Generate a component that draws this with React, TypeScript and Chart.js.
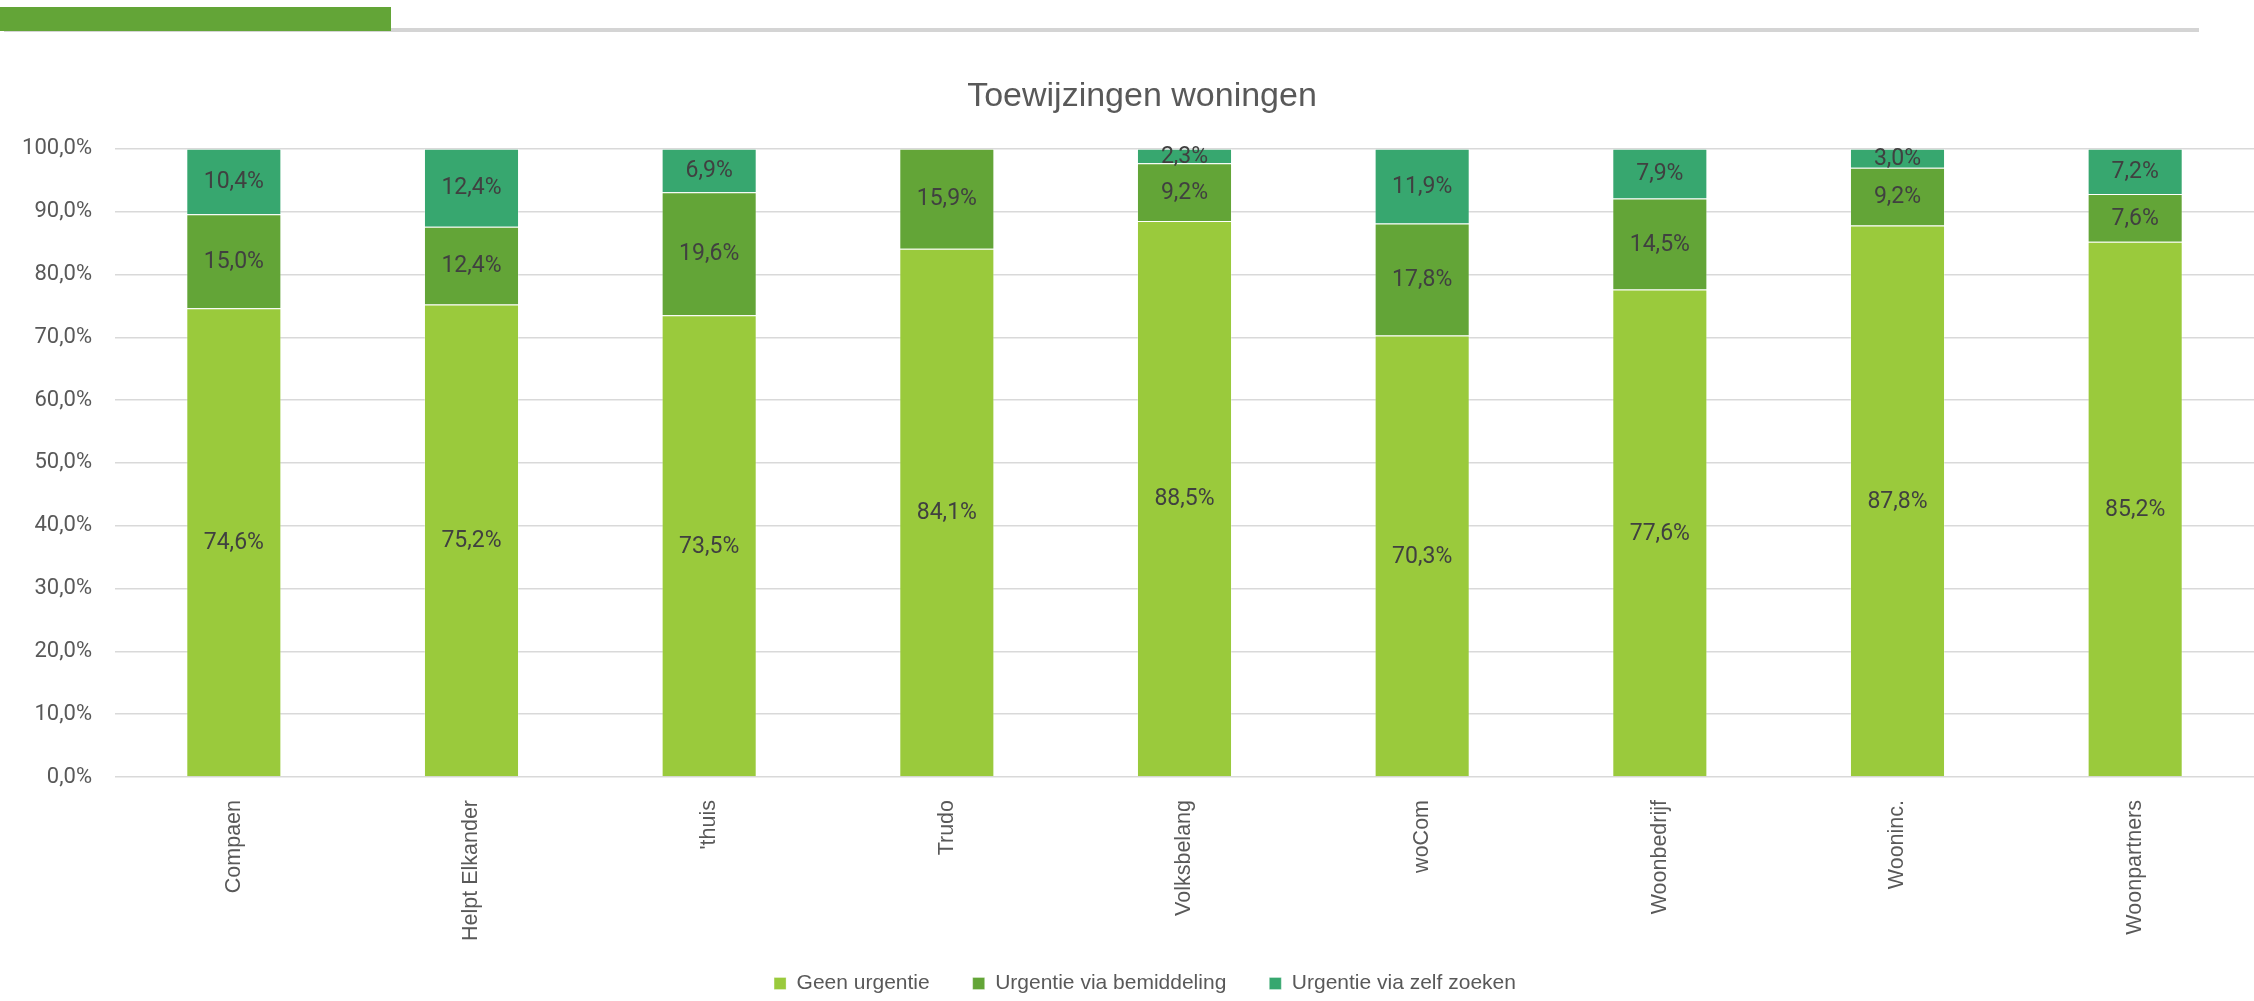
import React, { useEffect, useRef } from "react";
import { Chart, registerables } from "chart.js";

Chart.register(...registerables);

const categories = ["Compaen", "Helpt Elkander", "'thuis", "Trudo", "Volksbelang", "woCom", "Woonbedrijf", "Wooninc.", "Woonpartners"];
const geenUrgentie = [74.6, 75.2, 73.5, 84.1, 88.5, 70.3, 77.6, 87.8, 85.2];
const viaBemiddeling = [15.0, 12.4, 19.6, 15.9, 9.2, 17.8, 14.5, 9.2, 7.6];
const viaZelfZoeken = [10.4, 12.4, 6.9, 0, 2.3, 11.9, 7.9, 3.0, 7.2];
const seriesNames = ["Geen urgentie", "Urgentie via bemiddeling", "Urgentie via zelf zoeken"];
const yTicks = [0, 10, 20, 30, 40, 50, 60, 70, 80, 90, 100];
const titleText = "Toewijzingen woningen";

const COLORS = ["#9ACA3C", "#63A537", "#37A76F"];
const fmt = (v: number) => v.toFixed(1).replace(".", ",") + "%";

const dataLabelPlugin = {
  id: "segLabels",
  afterDatasetsDraw(chart: any) {
    const ctx = chart.ctx;
    ctx.save();
    ctx.font = "23px Roboto, 'Liberation Sans', sans-serif";
    ctx.fillStyle = "#404040";
    ctx.textAlign = "center";
    ctx.textBaseline = "middle";
    chart.data.datasets.forEach((ds: any, di: number) => {
      const meta = chart.getDatasetMeta(di);
      meta.data.forEach((el: any, i: number) => {
        const v = ds.data[i];
        if (!v) return;
        const y = (el.y + el.base) / 2;
        ctx.fillText(fmt(v), el.x, y + 1);
      });
    });
    ctx.restore();
  },
};

const layoutTweak = {
  id: "layoutTweak",
  afterLayout(chart: any) {
    const x = chart.scales.x;
    if (x) x.bottom = chart.height;
    if (chart.legend) {
      chart.legend.left += 36;
      chart.legend.top += 3;
      chart.legend.bottom += 3;
    }
    if (chart.titleBlock) {
      chart.titleBlock.left += 30;
    }
  },
};

export default function App() {
  const ref = useRef<HTMLCanvasElement>(null);
  useEffect(() => {
    if (!ref.current) return;
    const chart = new Chart(ref.current, {
      type: "bar",
      data: {
        labels: categories,
        datasets: [geenUrgentie, viaBemiddeling, viaZelfZoeken].map((d, i) => ({
          label: seriesNames[i],
          data: d,
          backgroundColor: COLORS[i],
          borderColor: "rgba(255,255,255,0.3)",
          borderWidth: 1,
          categoryPercentage: 0.8,
          barPercentage: 0.5,
        })),
      },
      options: {
        animation: false,
        responsive: false,
        devicePixelRatio: 1,
        layout: { padding: { left: 0, right: 0, top: 0, bottom: 0 } },
        plugins: {
          title: {
            display: true,
            text: titleText,
            color: "#595959",
            font: { family: "'Liberation Sans', Arial, sans-serif", size: 34, weight: "normal" },
            padding: { top: 76, bottom: 32 },
          },
          legend: {
            position: "bottom",
            labels: {
              boxWidth: 12,
              boxHeight: 12,
              padding: 43,
              color: "#595959",
              font: { family: "'Liberation Sans', Arial, sans-serif", size: 21 },
            },
          },
          tooltip: { enabled: false },
        },
        scales: {
          x: {
            stacked: true,
            grid: { display: false, drawTicks: false },
            border: { display: false },
            ticks: {
              minRotation: 90,
              maxRotation: 90,
              padding: 23,
              color: "#595959",
              font: { family: "'Liberation Sans', Arial, sans-serif", size: 21.5 },
            },
            afterFit: (s: any) => { s.height = 150; },
          },
          y: {
            stacked: true,
            min: 0,
            max: 100,
            afterBuildTicks: (s: any) => { s.ticks = yTicks.map((v) => ({ value: v })); },
            grid: { color: "#D9D9D9", lineWidth: 1.5, drawTicks: false },
            border: { display: false },
            ticks: {
              padding: 23,
              color: "#595959",
              font: { family: "Roboto, 'Liberation Sans', sans-serif", size: 22 },
              callback: (v: any) => fmt(Number(v)),
            },
            afterFit: (s: any) => { s.width = 115; },
          },
        },
      },
      plugins: [dataLabelPlugin, layoutTweak],
    } as any);
    return () => chart.destroy();
  }, []);

  return (
    <div style={{ position: "absolute", left: 0, top: 0, width: 2254, height: 1001, background: "#fff", overflow: "hidden" }}>
      <div style={{ position: "absolute", left: 4, top: 28, width: 2195, height: 4, background: "#D4D4D4" }} />
      <div style={{ position: "absolute", left: 0, top: 7, width: 391, height: 24, background: "#63A537" }} />
      <canvas ref={ref} width={2254} height={1001} style={{ position: "absolute", left: 0, top: 0, width: 2254, height: 1001 }} />
    </div>
  );
}
